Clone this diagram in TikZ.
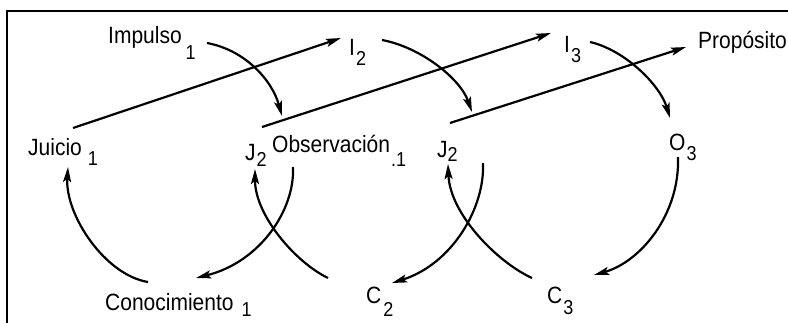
\documentclass[tikz,border=0pt]{standalone}
\usepackage{fontspec}
\setmainfont{Liberation Sans}
\usetikzlibrary{arrows.meta}
\newcommand{\lowsub}[3]{\hspace{#1pt}\raisebox{-#2pt}{\fontsize{18}{18}\selectfont #3}}
\newcommand{\tallt}[1]{\scalebox{1}[1.12]{#1}}
\begin{document}
\begin{tikzpicture}[x=1pt,y=-1pt,
  lbl/.style={inner sep=0pt, anchor=base west, font=\fontsize{21}{24}\selectfont, text=black},
  conn/.style={line width=2.2pt, -{Stealth[length=15pt,width=8pt,inset=3pt]}},
  frame/.style={line width=2.5pt}]
\useasboundingbox (0,0) rectangle (788,322);
\fill[white] (0,0) rectangle (788,322);
\draw[frame] (7,323) -- (7,11) -- (789,11);

% labels
\node[lbl] (imp) at (108,43) {\tallt{Impulso\lowsub{4}{15}{1}}};
\node[lbl] (jui) at (28,155) {\tallt{Juicio\lowsub{6}{9}{1}}};
\node[lbl] (ja) at (245,160) {\tallt{J\lowsub{1}{6}{2}}};
\node[lbl] (obs) at (272,152) {\tallt{Observación\lowsub{1}{13}{.1}}};
\node[lbl] (ia) at (349,55) {\tallt{I\lowsub{1}{9}{2}}};
\node[lbl] (ib) at (564,52) {\tallt{I\lowsub{1}{9}{3}}};
\node[lbl] (pro) at (698,48) {\tallt{Propósito}};
\node[lbl] (jb) at (437,157) {\tallt{J\lowsub{0}{4}{2}}};
\node[lbl] (ob) at (669,150) {\tallt{O\lowsub{1}{9}{3}}};
\node[lbl] (con) at (105,310) {\tallt{Conocimiento\lowsub{8}{6}{1}}};
\node[lbl] (ca) at (366,303) {\tallt{C\lowsub{2}{12}{2}}};
\node[lbl] (cb) at (547,303) {\tallt{C\lowsub{1}{10}{3}}};

% end points
\coordinate (s1) at (73,128);  \coordinate (e1) at (341,38);
\coordinate (s2) at (262,127); \coordinate (e2) at (551,33);
\coordinate (s3) at (450,123); \coordinate (e3) at (686,47);
\coordinate (a1) at (207,43);  \coordinate (a2) at (282,116);
\coordinate (b1) at (382,40);  \coordinate (b2) at (472,112);
\coordinate (c1) at (590,42);  \coordinate (c2) at (670,118);
\coordinate (d1) at (148,282); \coordinate (d2) at (68,167);
\coordinate (f1) at (293,167); \coordinate (f2) at (196,278);
\coordinate (g1) at (328,278); \coordinate (g2) at (255,169);
\coordinate (h1) at (483,163); \coordinate (h2) at (392,283);
\coordinate (k1) at (532,278); \coordinate (k2) at (448,164);
\coordinate (m1) at (678,157); \coordinate (m2) at (594,275);

% straight arrows
\draw[conn] (s1) -- (e1);
\draw[conn] (s2) -- (e2);
\draw[conn] (s3) -- (e3);

% upper arcs
\draw[conn] (a1) .. controls (245,50) and (272,80) .. (a2);
\draw[conn] (b1) .. controls (420,47) and (460,78) .. (b2);
\draw[conn] (c1) .. controls (625,50) and (660,85) .. (c2);

% lower arcs
\draw[conn] (d1) .. controls (105,275) and (65,215) .. (d2);
\draw[conn] (f1) .. controls (295,210) and (260,262) .. (f2);
\draw[conn] (g1) .. controls (295,262) and (255,215) .. (g2);
\draw[conn] (h1) .. controls (485,208) and (452,264) .. (h2);
\draw[conn] (k1) .. controls (497,262) and (450,214) .. (k2);
\draw[conn] (m1) .. controls (680,215) and (640,262) .. (m2);
\end{tikzpicture}
\end{document}
